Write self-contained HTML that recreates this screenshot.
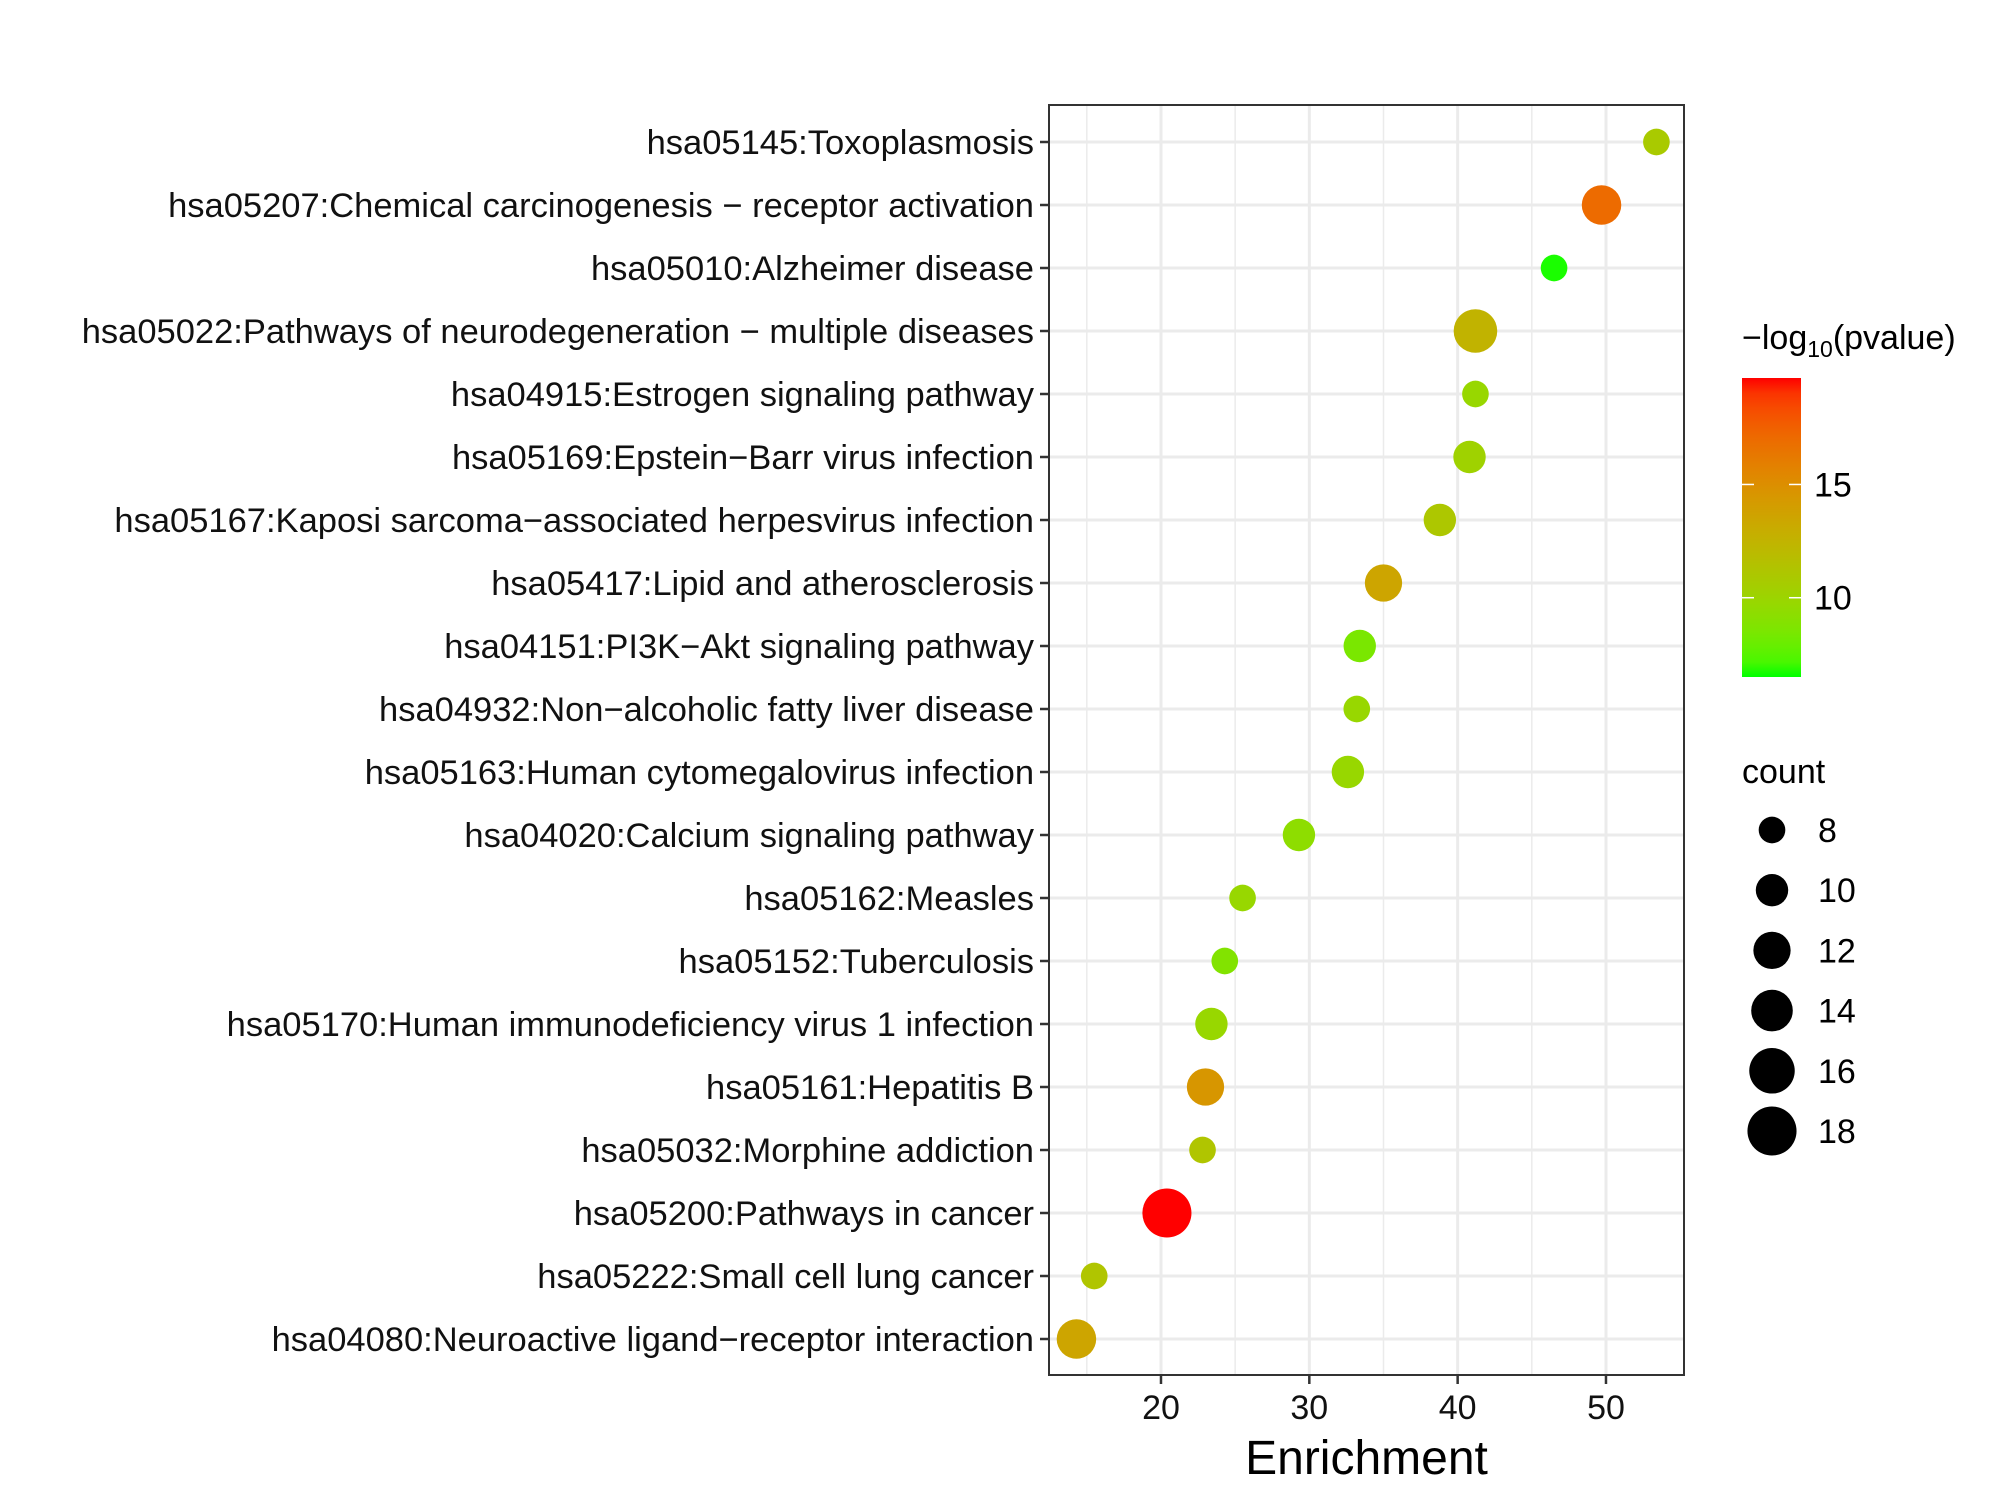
<!DOCTYPE html>
<html><head><meta charset="utf-8"><style>
html,body{margin:0;padding:0;background:#fff;}
svg{display:block;font-family:"Liberation Sans",Arial,sans-serif;}
</style></head><body>
<svg id="chart" width="2000" height="1500" viewBox="0 0 2000 1500" xmlns="http://www.w3.org/2000/svg"></svg>
<script>
const categories = ["hsa05145:Toxoplasmosis","hsa05207:Chemical carcinogenesis \u2212 receptor activation","hsa05010:Alzheimer disease","hsa05022:Pathways of neurodegeneration \u2212 multiple diseases","hsa04915:Estrogen signaling pathway","hsa05169:Epstein\u2212Barr virus infection","hsa05167:Kaposi sarcoma\u2212associated herpesvirus infection","hsa05417:Lipid and atherosclerosis","hsa04151:PI3K\u2212Akt signaling pathway","hsa04932:Non\u2212alcoholic fatty liver disease","hsa05163:Human cytomegalovirus infection","hsa04020:Calcium signaling pathway","hsa05162:Measles","hsa05152:Tuberculosis","hsa05170:Human immunodeficiency virus 1 infection","hsa05161:Hepatitis B","hsa05032:Morphine addiction","hsa05200:Pathways in cancer","hsa05222:Small cell lung cancer","hsa04080:Neuroactive ligand\u2212receptor interaction"];
const enrichment = [53.4,49.7,46.5,41.2,41.2,40.8,38.8,35.0,33.4,33.2,32.6,29.3,25.5,24.3,23.4,23.0,22.8,20.4,15.5,14.3];
const counts = [8,13,8,15,8,10,10,12,10,8,10,10,8,8,10,12,8,18,8,13];
const pvals = [10.8,17,6.6,12.5,9.8,10.2,11,13.5,8.5,9.8,9.8,9.3,9.8,8.8,9.8,14.5,11.2,19.7,11.2,13.5];
const xTicks = [20,30,40,50];
const xMinor = [15,25,35,45];
const colorTicks = [10,15];
const sizeTicks = [8,10,12,14,16,18];

const NS="http://www.w3.org/2000/svg";
const svg=document.getElementById('chart');
function mk(tag,attrs,parent){const e=document.createElementNS(NS,tag);for(const k in attrs)e.setAttribute(k,attrs[k]);(parent||svg).appendChild(e);return e;}

const P={l:1049,r:1684,t:105,b:1375};
const xMin=12.45,xMax=55.26;
function xs(v){return P.l+(v-xMin)/(xMax-xMin)*(P.r-P.l);}
const row0=142,rowStep=63.0;
function ys(i){return row0+i*rowStep;}
function dia(c){return Math.sqrt(Math.max(80,-650+170*c));}
const cMin=6.5,cMax=19.7;
function toLin(c){c/=255;return c<=0.04045?c/12.92:Math.pow((c+0.055)/1.055,2.4);}
function fromLin(c){c=c<=0.0031308?12.92*c:1.055*Math.pow(c,1/2.4)-0.055;return Math.max(0,Math.min(255,Math.round(c*255)));}
function rgb2lab(r,g,b){r=toLin(r);g=toLin(g);b=toLin(b);
 let X=(r*0.4124+g*0.3576+b*0.1805)/0.95047,Y=(r*0.2126+g*0.7152+b*0.0722),Z=(r*0.0193+g*0.1192+b*0.9505)/1.08883;
 const f=t=>t>0.008856?Math.cbrt(t):7.787*t+16/116;X=f(X);Y=f(Y);Z=f(Z);
 return [116*Y-16,500*(X-Y),200*(Y-Z)];}
function lab2rgb(L,a,b){let Y=(L+16)/116,X=a/500+Y,Z=Y-b/200;
 const fi=t=>t*t*t>0.008856?t*t*t:(t-16/116)/7.787;X=fi(X)*0.95047;Y=fi(Y);Z=fi(Z)*1.08883;
 const r=X*3.2406+Y*-1.5372+Z*-0.4986,g=X*-0.9689+Y*1.8758+Z*0.0415,bb=X*0.0557+Y*-0.2040+Z*1.0570;
 return 'rgb('+fromLin(r)+','+fromLin(g)+','+fromLin(bb)+')';}
const LG=rgb2lab(0,255,0),LR=rgb2lab(255,0,0);
function col(v){const t=Math.max(0,Math.min(1,(v-cMin)/(cMax-cMin)));return lab2rgb(LG[0]+(LR[0]-LG[0])*t,LG[1]+(LR[1]-LG[1])*t,LG[2]+(LR[2]-LG[2])*t);}

const panel=mk('rect',{x:P.l,y:P.t,width:P.r-P.l,height:P.b-P.t,fill:'#fff'});


xMinor.forEach(v=>{const l=mk('line',{x1:xs(v),x2:xs(v),y1:P.t,y2:P.b,stroke:'#ebebeb','stroke-width':1.5});

});
xTicks.forEach(v=>{const l=mk('line',{x1:xs(v),x2:xs(v),y1:P.t,y2:P.b,stroke:'#ebebeb','stroke-width':3});

});
categories.forEach((c,i)=>{const l=mk('line',{x1:P.l,x2:P.r,y1:ys(i),y2:ys(i),stroke:'#ebebeb','stroke-width':3});

});
categories.forEach((c,i)=>{const d=dia(counts[i]);
 const p=mk('circle',{cx:xs(enrichment[i]),cy:ys(i),r:d/2,fill:col(pvals[i])});
 
 });
const border=mk('rect',{x:P.l,y:P.t,width:P.r-P.l,height:P.b-P.t,fill:'none',stroke:'#333','stroke-width':2});


categories.forEach((c,i)=>{
 mk('line',{x1:P.l-9,x2:P.l,y1:ys(i),y2:ys(i),stroke:'#333','stroke-width':2.5});
 const t=mk('text',{x:P.l-15,y:ys(i)+12,'text-anchor':'end','font-size':34.5,fill:'#111'});
 t.textContent=c;
 
 });
xTicks.forEach(v=>{
 mk('line',{x1:xs(v),x2:xs(v),y1:P.b,y2:P.b+9,stroke:'#333','stroke-width':2.5});
 const t=mk('text',{x:xs(v),y:P.b+44,'text-anchor':'middle','font-size':34,fill:'#111'});
 t.textContent=v;
 
 });
const xt=mk('text',{x:(P.l+P.r)/2,y:1474,'text-anchor':'middle','font-size':48,fill:'#000'});
xt.textContent='Enrichment';



const lt=mk('text',{x:1742,y:349,'font-size':34,fill:'#000'});


lt.innerHTML='\u2212log<tspan font-size="23" dy="8">10</tspan><tspan dy="-8">(pvalue)</tspan>';
const defs=mk('defs',{});
const grad=mk('linearGradient',{id:'cg',x1:0,y1:1,x2:0,y2:0},defs);
for(let k=0;k<=20;k++){mk('stop',{offset:k/20,'stop-color':col(cMin+(cMax-cMin)*k/20)},grad);}
const cbTop=378,cbBot=677;
function cy(v){return cbBot-(v-cMin)/(cMax-cMin)*(cbBot-cbTop);}
const bar=mk('rect',{x:1742,y:cbTop,width:59,height:cbBot-cbTop,fill:'url(#cg)'});


colorTicks.forEach(v=>{
 mk('line',{x1:1742,x2:1754,y1:cy(v),y2:cy(v),stroke:'#fff','stroke-width':1.5});
 mk('line',{x1:1789,x2:1801,y1:cy(v),y2:cy(v),stroke:'#fff','stroke-width':1.5});
 const t=mk('text',{x:1814,y:cy(v)+12,'font-size':34,fill:'#000'});
 t.textContent=v;
 
 });
const st=mk('text',{x:1742,y:783,'font-size':34,fill:'#000'});
st.textContent='count';


sizeTicks.forEach((v,k)=>{const y=830+k*60.2;
 const c=mk('circle',{cx:1772,cy:y,r:dia(v)/2,fill:'#000'});
 
 
 const t=mk('text',{x:1818,y:y+12,'font-size':34,fill:'#000'});
 t.textContent=v;
 
 });
</script>
</body></html>
